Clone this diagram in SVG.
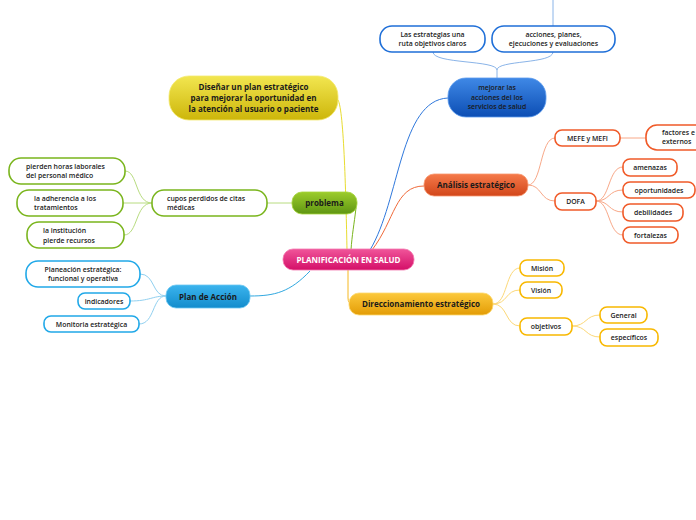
<svg xmlns="http://www.w3.org/2000/svg" width="696" height="520" viewBox="0 0 696 520">
<defs>
<linearGradient id="gPink" x1="0" y1="0" x2="0" y2="1"><stop offset="0" stop-color="#f0559a"/><stop offset="1" stop-color="#d40f68"/></linearGradient>
<linearGradient id="gGreen" x1="0" y1="0" x2="0" y2="1"><stop offset="0" stop-color="#9ccc2c"/><stop offset="1" stop-color="#5f9612"/></linearGradient>
<linearGradient id="gYellow" x1="0" y1="0" x2="0" y2="1"><stop offset="0" stop-color="#f2e650"/><stop offset="1" stop-color="#cdb60a"/></linearGradient>
<linearGradient id="gBlue" x1="0" y1="0" x2="0" y2="1"><stop offset="0" stop-color="#3f88e6"/><stop offset="1" stop-color="#0c4eb4"/></linearGradient>
<linearGradient id="gOrange" x1="0" y1="0" x2="0" y2="1"><stop offset="0" stop-color="#f57a4a"/><stop offset="1" stop-color="#d2461a"/></linearGradient>
<linearGradient id="gAmber" x1="0" y1="0" x2="0" y2="1"><stop offset="0" stop-color="#fcc93c"/><stop offset="1" stop-color="#e39c05"/></linearGradient>
<linearGradient id="gSky" x1="0" y1="0" x2="0" y2="1"><stop offset="0" stop-color="#3bb4ee"/><stop offset="1" stop-color="#128ccc"/></linearGradient>
</defs>
<style>
text{font-family:"Open Sans","Noto Sans","DejaVu Sans",sans-serif;fill:#1a1a1a;text-anchor:middle}
.m{font-size:8px;font-weight:700}
.l{font-size:6.9px;font-weight:600}
.s{text-anchor:start}
.w{fill:#ffffff}
.leaf{fill:#ffffff;stroke-width:1.6}
.c{fill:none;stroke-width:1}
</style>

<g id="connectors">
<path class="c" d="M553 0 L553 52" stroke="#8ab4e8"/>
<path class="c" d="M433 52 C433 64 497 60 497 70 L497 78" stroke="#8ab4e8"/>
<path class="c" d="M553 52 C553 64 497 60 497 70" stroke="#8ab4e8"/>
<path class="c" d="M370 250 C400 200 400 100 448 98" stroke="#2f78dc" stroke-width="1.3"/>
<path class="c" d="M372 250 C395 220 395 186 424 186" stroke="#f06a3a" stroke-width="1.3"/>
<path class="c" d="M338 100 C344 110 346 200 347 250" stroke="#e8dc30" stroke-width="1.5"/>
<path class="c" d="M356 208 C354 225 352 235 351 250" stroke="#7ab51d" stroke-width="1.5"/>
<path class="c" d="M292 203 L267 203" stroke="#b8dc80"/>
<path class="c" d="M152 203 C135 203 138 171 125 171" stroke="#b8dc80"/>
<path class="c" d="M152 203 L123 203" stroke="#b8dc80"/>
<path class="c" d="M152 203 C135 203 138 235 124 235" stroke="#b8dc80"/>
<path class="c" d="M310 271 C290 292 275 296 250 296" stroke="#30a8e0" stroke-width="1.3"/>
<path class="c" d="M166 296 C152 296 155 274 140 274" stroke="#90d0f0"/>
<path class="c" d="M166 296 C152 296 150 301 130 301" stroke="#90d0f0"/>
<path class="c" d="M166 296 C152 296 155 324 139 324" stroke="#90d0f0"/>
<path class="c" d="M348 270 L348 298 Q348 304 353 304" stroke="#f6b820" stroke-width="1.5"/>
<path class="c" d="M493 304 C508 304 505 268 520 268" stroke="#fcd878"/>
<path class="c" d="M493 304 C508 304 505 290 520 290" stroke="#fcd878"/>
<path class="c" d="M493 304 C508 304 505 326 520 326" stroke="#fcd878"/>
<path class="c" d="M572 326 C587 326 585 315 600 315" stroke="#fcd878"/>
<path class="c" d="M572 326 C587 326 585 337 600 337" stroke="#fcd878"/>
<path class="c" d="M528 185 C542 185 540 138 555 138" stroke="#f8a888"/>
<path class="c" d="M528 185 C542 185 540 201 555 201" stroke="#f8a888"/>
<path class="c" d="M620 138 L646 138" stroke="#f8a888"/>
<path class="c" d="M596 201 C610 201 608 167 623 167" stroke="#f8a888"/>
<path class="c" d="M596 201 C610 201 608 190 623 190" stroke="#f8a888"/>
<path class="c" d="M596 201 C610 201 608 212 623 212" stroke="#f8a888"/>
<path class="c" d="M596 201 C610 201 608 235 623 235" stroke="#f8a888"/>
</g>

<g id="n-estrategias"><rect class="leaf" x="380" y="26" width="105" height="26" rx="12" stroke="#1f6fd8"/><text class="l" x="432.5" y="37">Las estrategias una</text><text class="l" x="432.5" y="46">ruta objetivos claros</text></g>
<g id="n-acciones"><rect class="leaf" x="492" y="26" width="123" height="26" rx="12" stroke="#1f6fd8"/><text class="l" x="553.5" y="37">acciones, planes,</text><text class="l" x="553.5" y="46">ejecuciones y evaluaciones</text></g>
<g id="n-mejorar"><rect x="448" y="78" width="98" height="39" rx="18" fill="url(#gBlue)" stroke="#5a9aee" stroke-width="0.8"/><text class="l" x="497" y="90">mejorar las</text><text class="l" x="497" y="99.5">acciones del los</text><text class="l" x="497" y="109">servicios de salud</text></g>
<g id="n-disenar"><rect x="169" y="76" width="169" height="44" rx="20" fill="url(#gYellow)" stroke="#f4ea70" stroke-width="0.8"/><text class="m" x="253.5" y="90">Diseñar un plan estratégico</text><text class="m" x="253.5" y="101">para mejorar la oportunidad en</text><text class="m" x="253.5" y="112">la atención al usuario o paciente</text></g>
<g id="n-problema"><rect x="292" y="192" width="65" height="22" rx="10" fill="url(#gGreen)" stroke="#a6d43a" stroke-width="0.8"/><text class="m" x="324.5" y="206">problema</text></g>
<g id="n-cupos"><rect class="leaf" x="152" y="190" width="115" height="26" rx="12" stroke="#7ab51d"/><text class="l s" x="167" y="201">cupos perdidos de citas</text><text class="l s" x="167" y="210">médicas</text></g>
<g id="n-pierden"><rect class="leaf" x="9" y="158" width="116" height="26" rx="12" stroke="#7ab51d"/><text class="l s" x="26" y="169">pierden horas laborales</text><text class="l s" x="26" y="178">del personal médico</text></g>
<g id="n-adherencia"><rect class="leaf" x="17" y="190" width="106" height="26" rx="12" stroke="#7ab51d"/><text class="l s" x="34" y="201">la adherencia a los</text><text class="l s" x="34" y="210">tratamientos</text></g>
<g id="n-institucion"><rect class="leaf" x="27" y="222" width="97" height="26" rx="12" stroke="#7ab51d"/><text class="l s" x="43" y="233">la institución</text><text class="l s" x="43" y="243">pierde recursos</text></g>
<g id="n-central"><rect x="283" y="249" width="131" height="21" rx="10" fill="url(#gPink)" stroke="#f47ab0" stroke-width="0.8"/><text class="m w" x="348.5" y="262.5">PLANIFICACIÓN EN SALUD</text></g>
<g id="n-plan"><rect x="166" y="285" width="84" height="23" rx="10" fill="url(#gSky)" stroke="#6cc8f2" stroke-width="0.8"/><text class="m" x="208" y="299.5">Plan de Acción</text></g>
<g id="n-planeacion"><rect class="leaf" x="26" y="261" width="114" height="26" rx="12" stroke="#20a8e8"/><text class="l" x="83" y="272">Planeación estratégica:</text><text class="l" x="83" y="281">funcional y operativa</text></g>
<g id="n-indicadores"><rect class="leaf" x="78" y="293" width="52" height="16" rx="7" stroke="#20a8e8"/><text class="l" x="104" y="303.5">indicadores</text></g>
<g id="n-monitoria"><rect class="leaf" x="44" y="316" width="95" height="16" rx="7" stroke="#20a8e8"/><text class="l" x="91.5" y="326.5">Monitoria estratégica</text></g>
<g id="n-analisis"><rect x="424" y="174" width="104" height="22" rx="10" fill="url(#gOrange)" stroke="#f89870" stroke-width="0.8"/><text class="m" x="476" y="188">Análisis estratégico</text></g>
<g id="n-mefe"><rect class="leaf" x="555" y="130" width="65" height="16" rx="7" stroke="#f05a28"/><text class="l" x="587.5" y="140.5">MEFE y MEFI</text></g>
<g id="n-factores"><rect class="leaf" x="646" y="125" width="70" height="25" rx="11" stroke="#f05a28"/><text class="l s" x="662" y="135">factores e</text><text class="l s" x="662" y="144">externos</text></g>
<g id="n-dofa"><rect class="leaf" x="555" y="193" width="41" height="17" rx="7" stroke="#f05a28"/><text class="l" x="575.5" y="204">DOFA</text></g>
<g id="n-amenazas"><rect class="leaf" x="623" y="159" width="54" height="17" rx="7" stroke="#f05a28"/><text class="l" x="650" y="170">amenazas</text></g>
<g id="n-oportunidades"><rect class="leaf" x="623" y="182" width="72" height="16" rx="7" stroke="#f05a28"/><text class="l" x="659" y="192.5">oportunidades</text></g>
<g id="n-debilidades"><rect class="leaf" x="623" y="204" width="60" height="17" rx="7" stroke="#f05a28"/><text class="l" x="653" y="215">debilidades</text></g>
<g id="n-fortalezas"><rect class="leaf" x="623" y="227" width="55" height="16" rx="7" stroke="#f05a28"/><text class="l" x="650.5" y="237.5">fortalezas</text></g>
<g id="n-direccionamiento"><rect x="349" y="293" width="144" height="22" rx="10" fill="url(#gAmber)" stroke="#fdd870" stroke-width="0.8"/><text class="m" x="421" y="307">Direccionamiento estratégico</text></g>
<g id="n-mision"><rect class="leaf" x="520" y="260" width="44" height="16" rx="7" stroke="#f8b800"/><text class="l" x="542" y="270.5">Misión</text></g>
<g id="n-vision"><rect class="leaf" x="520" y="282" width="42" height="16" rx="7" stroke="#f8b800"/><text class="l" x="541" y="292.5">Visión</text></g>
<g id="n-objetivos"><rect class="leaf" x="520" y="318" width="52" height="17" rx="7" stroke="#f8b800"/><text class="l" x="546" y="329">objetivos</text></g>
<g id="n-general"><rect class="leaf" x="600" y="307" width="47" height="16" rx="7" stroke="#f8b800"/><text class="l" x="623.5" y="317.5">General</text></g>
<g id="n-especificos"><rect class="leaf" x="600" y="329" width="58" height="17" rx="7" stroke="#f8b800"/><text class="l" x="629" y="340">específicos</text></g>
</svg>
